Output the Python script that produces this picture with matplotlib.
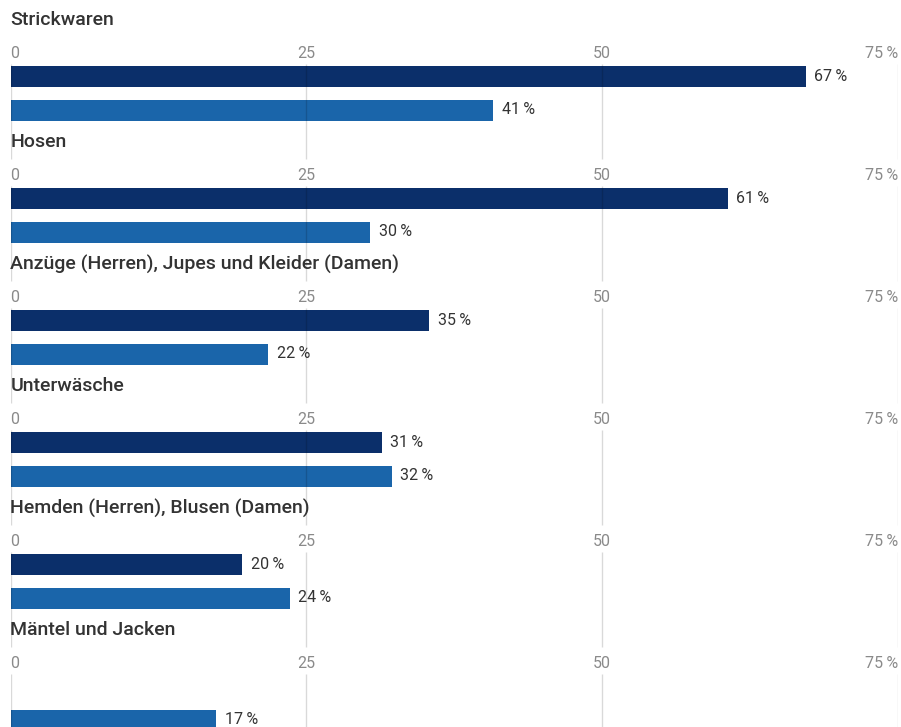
import numpy as np
import matplotlib
matplotlib.use("Agg")
import matplotlib.pyplot as plt

# ---- data ----
categories = [
    "Strickwaren",
    "Hosen",
    "Anzüge (Herren), Jupes und Kleider (Damen)",
    "Unterwäsche",
    "Hemden (Herren), Blusen (Damen)",
    "Mäntel und Jacken",
]
series_dark = [67.2, 60.6, 35.4, 31.4, 19.6, np.nan]
series_light = [40.8, 30.4, 21.8, 32.2, 23.6, 17.4]
tick_values = [0, 25, 50, 75]
tick_labels = ["0", "25", "50", "75\u2009%"]

# ---- style ----
C_DARK = "#0b2f6a"
C_LIGHT = "#1a65aa"
C_GRID = (0, 0, 0, 0.15)
C_TICK = "#8a8a8a"
C_TEXT = "#333333"
FONT = ["Roboto", "DejaVu Sans"]

W, H = 901, 727
fig = plt.figure(figsize=(W / 100, H / 100), dpi=100)
x0, x1 = 10.5, 898.0
ax = fig.add_axes([x0 / W, 0, (x1 - x0) / W, 1])
ax.set_xlim(0, 75)
ax.set_ylim(H, 0)
ax.axis("off")

panel_h = 122
title_off = 20
tick_off = 33
dark_off = 56.5
light_off = 90
bar_h = 21
gap_top, gap_bot = 17, 44

n = len(categories)
for i, cat in enumerate(categories):
    T = title_off + i * panel_h
    ax.text(0, T, cat, ha="left", va="center", fontsize=14, fontweight="medium",
            color=C_TEXT, family=FONT, clip_on=False)
    for tv, tl in zip(tick_values, tick_labels):
        ha = "left" if tv == tick_values[0] else ("right" if tv == tick_values[-1] else "center")
        ax.text(tv, T + tick_off, tl, ha=ha, va="center", fontsize=11.5, color=C_TICK,
                family=FONT, clip_on=False)
    # grid segments
    y_start = T + gap_bot
    y_end = (title_off + (i + 1) * panel_h + gap_top) if i < n - 1 else H
    ax.vlines(tick_values, y_start, y_end, colors=[C_GRID], linewidth=1, zorder=3)
    for val, off, col in ((series_dark[i], dark_off, C_DARK), (series_light[i], light_off, C_LIGHT)):
        if np.isnan(val):
            continue
        ax.barh(T + off, val, height=bar_h, color=col, zorder=2, edgecolor="none")
        ax.annotate(f"{val:.0f}\u2009%", (val, T + off), xytext=(6, 0),
                    textcoords="offset points", ha="left", va="center", fontsize=11.5,
                    color=C_TEXT, family=FONT, zorder=4)

fig.savefig("out.png", dpi=100)
